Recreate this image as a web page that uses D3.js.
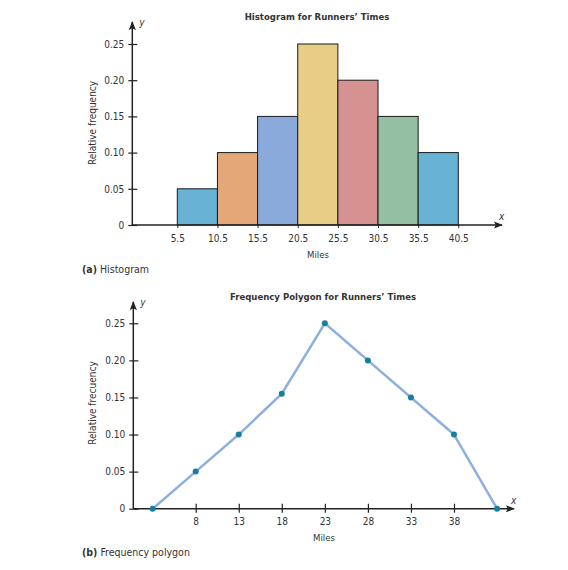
<!DOCTYPE html>
<html>
<head>
<meta charset="utf-8">
<script src="https://cdn.jsdelivr.net/npm/d3@7"></script>
<style>
  body { margin: 0; background: #fff; }
  svg text { font-family: "Liberation Sans Narrow", "DejaVu Sans Condensed", sans-serif; fill: #333; }
</style>
</head>
<body>
<svg id="chart" width="568" height="570"></svg>
<script>
// Histogram data
const binEdges = [5.5, 10.5, 15.5, 20.5, 25.5, 30.5, 35.5, 40.5];
const relFreq = [0.05, 0.10, 0.15, 0.25, 0.20, 0.15, 0.10];
const barColors = ["#68b2d5", "#e4a878", "#8aaadb", "#e7cd86", "#d69191", "#94bfa0", "#68b2d5"];

// Frequency polygon data
const midpoints = [3, 8, 13, 18, 23, 28, 33, 38, 43];
const polyFreq = [0, 0.05, 0.10, 0.155, 0.25, 0.20, 0.15, 0.10, 0];
const polyTicks = [8, 13, 18, 23, 28, 33, 38];
const yTicks = [0, 0.05, 0.10, 0.15, 0.20, 0.25];

const svg = d3.select("#chart");
const fmt = d => d === 0 ? "0" : d3.format(".2f")(d);
const fontStack = "'Liberation Sans Narrow', 'DejaVu Sans Condensed', sans-serif";

svg.append("defs").append("marker")
    .attr("id", "arrow")
    .attr("viewBox", "0 0 10 10")
    .attr("refX", 9).attr("refY", 5)
    .attr("markerWidth", 9).attr("markerHeight", 9)
    .attr("markerUnits", "userSpaceOnUse")
    .attr("orient", "auto")
    .append("path")
    .attr("d", "M0,1 L10,5 L0,9 L2,5 Z")
    .attr("fill", "#222");

function frame(g, opt) {
    // x axis line with arrow
    g.append("line")
        .attr("x1", opt.axisX).attr("x2", opt.xEnd)
        .attr("y1", opt.axisY).attr("y2", opt.axisY)
        .attr("stroke", "#222").attr("stroke-width", 1.5)
        .attr("marker-end", "url(#arrow)");
    // y axis line with arrow
    g.append("line")
        .attr("x1", opt.axisX).attr("x2", opt.axisX)
        .attr("y1", opt.axisY).attr("y2", opt.yEnd)
        .attr("stroke", "#222").attr("stroke-width", 1.5)
        .attr("marker-end", "url(#arrow)");

    const yAxis = g.append("g")
        .attr("transform", `translate(${opt.axisX},0)`)
        .call(d3.axisLeft(opt.y).tickValues(yTicks).tickFormat(fmt).tickSize(4).tickPadding(4));
    yAxis.select(".domain").remove();
    yAxis.selectAll(".tick line").attr("x1", 5).attr("stroke", "#222").attr("stroke-width", 1.2);
    yAxis.selectAll(".tick text").attr("font-size", 10).attr("fill", "#333")
        .style("font-family", fontStack);

    g.append("text")
        .attr("transform", `translate(${opt.labelX},${opt.labelY}) rotate(-90)`)
        .attr("text-anchor", "middle").attr("dy", "0.35em")
        .attr("font-size", 10)
        .text(opt.yLabel);

    g.append("text")
        .attr("x", opt.axisX + 7).attr("y", opt.yEnd + 4)
        .attr("font-size", 10).attr("font-style", "italic")
        .text("y");
    g.append("text")
        .attr("x", opt.xEnd - 3).attr("y", opt.axisY - 5)
        .attr("font-size", 10).attr("font-style", "italic")
        .text("x");

    g.append("text")
        .attr("x", opt.titleX).attr("y", opt.titleY)
        .attr("text-anchor", "middle").attr("font-size", 9.5).attr("font-weight", "bold")
        .attr("fill", "#222")
        .text(opt.title);

    g.append("text")
        .attr("x", opt.titleX + 1).attr("y", opt.milesY)
        .attr("text-anchor", "middle").attr("font-size", 9.5)
        .text("Miles");

    const cap = g.append("text")
        .attr("x", 82).attr("y", opt.capY)
        .attr("font-size", 10.5);
    cap.append("tspan").attr("font-weight", "bold").text("(" + opt.capLetter + ")");
    cap.append("tspan").text(" " + opt.caption);
}

// ---------- (a) Histogram ----------
const gA = svg.append("g");
const xA = d3.scaleLinear().domain([5.5, 40.5]).range([177.3, 458.3]);
const yA = d3.scaleLinear().domain([0, 0.25]).range([225, 44]);

const bars = relFreq.map((v, i) => ({ x0: binEdges[i], x1: binEdges[i + 1], v: v, c: barColors[i] }));
gA.selectAll("rect.bar")
    .data(bars)
    .enter()
    .append("rect")
    .attr("class", "bar")
    .attr("x", d => xA(d.x0))
    .attr("y", d => yA(d.v))
    .attr("width", d => xA(d.x1) - xA(d.x0))
    .attr("height", d => yA(0) - yA(d.v))
    .attr("fill", d => d.c)
    .attr("stroke", "#1a1a1a")
    .attr("stroke-width", 1);

frame(gA, {
    axisX: 132.3, axisY: 225, xEnd: 502, yEnd: 22, y: yA,
    labelX: 92, labelY: 123, yLabel: "Relative frequency",
    titleX: 317, titleY: 20, title: "Histogram for Runners\u2019 Times",
    milesY: 258, capY: 273, capLetter: "a", caption: "Histogram"
});

const xAxisA = gA.append("g")
    .attr("transform", "translate(0,225)")
    .call(d3.axisBottom(xA).tickValues(binEdges).tickFormat(d3.format(".1f")).tickSize(3).tickPadding(7));
xAxisA.select(".domain").remove();
xAxisA.selectAll(".tick line").attr("stroke", "#222");
xAxisA.selectAll(".tick text").attr("font-size", 10).attr("fill", "#333")
    .style("font-family", fontStack);

// ---------- (b) Frequency polygon ----------
const gB = svg.append("g");
const xB = d3.scaleLinear().domain([8, 38]).range([195.7, 454]);
const yB = d3.scaleLinear().domain([0, 0.25]).range([508.7, 323.3]);
const pts = midpoints.map((m, i) => ({ x: m, v: polyFreq[i] }));

frame(gB, {
    axisX: 133.3, axisY: 508.7, xEnd: 514, yEnd: 302, y: yB,
    labelX: 92, labelY: 403, yLabel: "Relative frecuency",
    titleX: 323, titleY: 300, title: "Frequency Polygon for Runners\u2019 Times",
    milesY: 541, capY: 556, capLetter: "b", caption: "Frequency polygon"
});

const xAxisB = gB.append("g")
    .attr("transform", "translate(0,508.7)")
    .call(d3.axisBottom(xB).tickValues(polyTicks).tickFormat(d3.format("d")).tickSize(4).tickPadding(5));
xAxisB.select(".domain").remove();
xAxisB.selectAll(".tick line").attr("y1", -5).attr("stroke", "#222").attr("stroke-width", 1.2);
xAxisB.selectAll(".tick text").attr("font-size", 10).attr("fill", "#333")
    .style("font-family", fontStack);

gB.append("path")
    .datum(pts)
    .attr("fill", "none")
    .attr("stroke", "#8db0de")
    .attr("stroke-width", 2.5)
    .attr("stroke-linejoin", "round")
    .attr("d", d3.line().x(d => xB(d.x)).y(d => yB(d.v)));

gB.selectAll("circle.pt")
    .data(pts)
    .enter()
    .append("circle")
    .attr("class", "pt")
    .attr("cx", d => xB(d.x))
    .attr("cy", d => yB(d.v))
    .attr("r", 3)
    .attr("fill", "#157fa2");
</script>
</body>
</html>
